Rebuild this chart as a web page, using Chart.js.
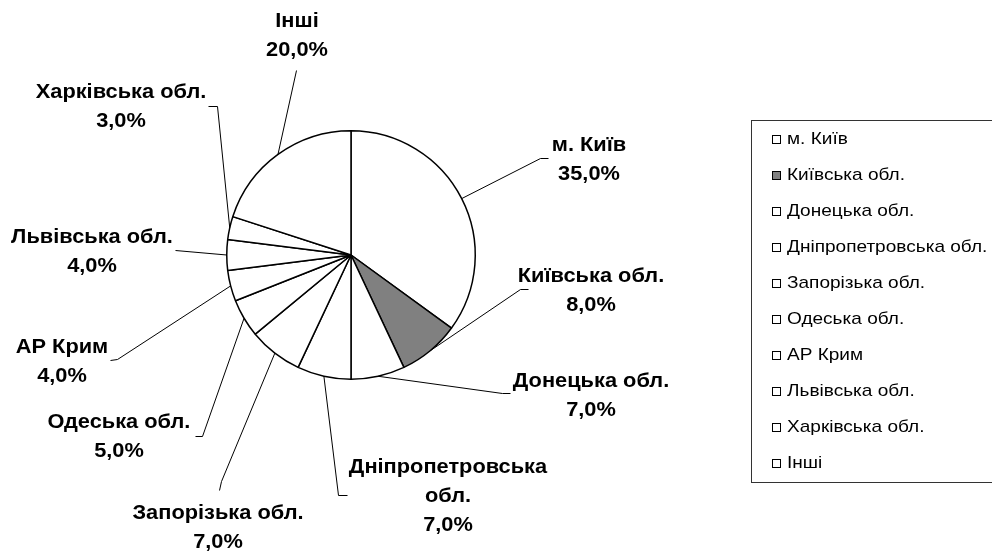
<!DOCTYPE html>
<html>
<head>
<meta charset="utf-8">
<script src="https://cdn.jsdelivr.net/npm/chart.js@4/dist/chart.umd.min.js"></script>
<style>
html,body{margin:0;padding:0;background:#fff;}
#wrap{position:relative;width:992px;height:551px;}
</style>
</head>
<body>
<div id="wrap"><canvas id="c" width="992" height="551"></canvas></div>
<script>
// ---- data ----
const categories = ["м. Київ","Київська обл.","Донецька обл.","Дніпропетровська обл.","Запорізька обл.","Одеська обл.","АР Крим","Львівська обл.","Харківська обл.","Інші"];
const shares = [35.0, 8.0, 7.0, 7.0, 7.0, 5.0, 4.0, 4.0, 3.0, 20.0];
// label text lines (category part) as shown beside the pie
const labelLines = [["м. Київ"],["Київська обл."],["Донецька обл."],["Дніпропетровська","обл."],["Запорізька обл."],["Одеська обл."],["АР Крим"],["Львівська обл."],["Харківська обл."],["Інші"]];

// ---- styles / layout (not data) ----
const sliceColors = ["#ffffff","#808080","#ffffff","#ffffff","#ffffff","#ffffff","#ffffff","#ffffff","#ffffff","#ffffff"];
// label placement relative to pie centre: text centre of first line, leader elbow, leader hook end
const labelLayout = [
  {tx:238, ty:-110, ex:189, ey:-97, hx:197, hy:-97},
  {tx:240, ty:21,   ex:169, ey:34,  hx:177, hy:34},
  {tx:240, ty:126,  ex:151, ey:138, hx:159, hy:138},
  {tx:97,  ty:212,  ex:-13, ey:240, hx:-4,  hy:240},
  {tx:-133,ty:258,  ex:-130,ey:226, hx:-132,hy:235},
  {tx:-232,ty:167,  ex:-149,ey:181, hx:-156,hy:181},
  {tx:-289,ty:92,   ex:-234,ey:104, hx:-241,hy:105},
  {tx:-259,ty:-18,  ex:-176,ey:-5,  hx:-176,hy:-5},
  {tx:-230,ty:-163, ex:-134,ey:-149,hx:-143,hy:-149},
  {tx:-54, ty:-234, ex:-55, ey:-185,hx:-55, hy:-185}
];
const LINE_H = 29;
const LABEL_FONT = 'bold 20px "Liberation Sans", Arial, sans-serif';
const LABEL_XSCALE = 1.09;
const LEGEND_FONT = '17px "Liberation Sans", Arial, sans-serif';
const LEGEND_XSCALE = 1.12;

function fmt(v){ return v.toFixed(1).replace('.', ',') + '%'; }

function drawScaledText(ctx, text, x, y, sx, align){
  ctx.save();
  ctx.translate(x, y);
  ctx.scale(sx, 1);
  ctx.textAlign = align;
  ctx.fillText(text, 0, 0);
  ctx.restore();
}

const labelPlugin = {
  id: 'pieLabels',
  afterDatasetsDraw(chart){
    const ctx = chart.ctx;
    const meta = chart.getDatasetMeta(0);
    ctx.save();
    meta.data.forEach((arc, i) => {
      const p = arc.getProps(['x','y','startAngle','endAngle','outerRadius'], true);
      const mid = (p.startAngle + p.endAngle) / 2;
      const ax = p.x + Math.cos(mid) * p.outerRadius;
      const ay = p.y + Math.sin(mid) * p.outerRadius;
      const L = labelLayout[i];
      ctx.strokeStyle = '#000';
      ctx.lineWidth = 1;
      ctx.beginPath();
      ctx.moveTo(ax, ay);
      ctx.lineTo(p.x + L.ex + 0.5, p.y + L.ey + 0.5);
      ctx.lineTo(p.x + L.hx + 0.5, p.y + L.hy + 0.5);
      ctx.stroke();
      ctx.fillStyle = '#000';
      ctx.font = LABEL_FONT;
      ctx.textBaseline = 'middle';
      const lines = labelLines[i].concat([fmt(chart.data.datasets[0].data[i])]);
      lines.forEach((t, k) => {
        drawScaledText(ctx, t, p.x + L.tx, p.y + L.ty + k * LINE_H, LABEL_XSCALE, 'center');
      });
    });
    ctx.restore();
  }
};

const legendPlugin = {
  id: 'boxLegend',
  afterDraw(chart){
    const ctx = chart.ctx;
    const box = {x:751.5, y:120.5, w:300, h:362};
    ctx.save();
    ctx.strokeStyle = '#333';
    ctx.lineWidth = 1;
    ctx.strokeRect(box.x, box.y, box.w, box.h);
    ctx.font = LEGEND_FONT;
    ctx.textBaseline = 'middle';
    const ds = chart.data.datasets[0];
    chart.data.labels.forEach((lab, i) => {
      const y = 139 + i * 36;
      ctx.fillStyle = ds.backgroundColor[i];
      ctx.fillRect(772.5, y - 3.5, 8, 8);
      ctx.strokeStyle = '#000';
      ctx.strokeRect(772.5, y - 3.5, 8, 8);
      ctx.fillStyle = '#000';
      drawScaledText(ctx, lab, 787, y, LEGEND_XSCALE, 'left');
    });
    ctx.restore();
  }
};

new Chart(document.getElementById('c'), {
  type: 'pie',
  data: {
    labels: categories,
    datasets: [{
      data: shares,
      backgroundColor: sliceColors,
      borderColor: '#000',
      borderWidth: 1.5,
      borderAlign: 'center'
    }]
  },
  options: {
    responsive: false,
    animation: false,
    rotation: 0,
    layout: { padding: { left: 226, right: 516, top: 130, bottom: 171 } },
    plugins: { legend: { display: false }, tooltip: { enabled: false } }
  },
  plugins: [labelPlugin, legendPlugin]
});
</script>
</body>
</html>
